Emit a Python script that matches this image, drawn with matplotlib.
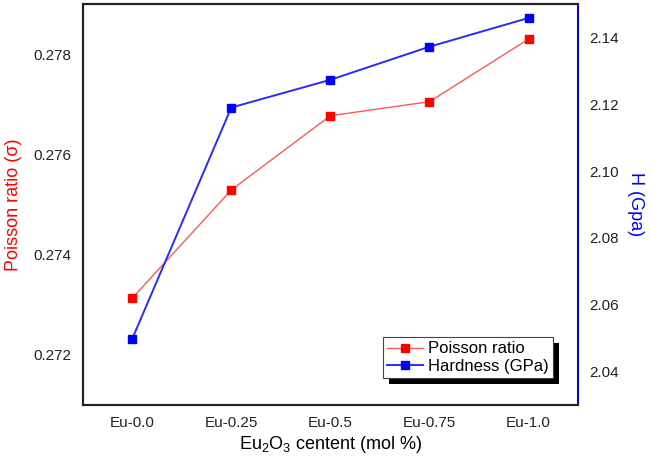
import matplotlib
matplotlib.use('Agg')
import matplotlib.pyplot as plt
from matplotlib.patches import Rectangle

plt.rcParams['font.family'] = ['Liberation Sans', 'DejaVu Sans']
plt.rcParams['mathtext.fontset'] = 'custom'
plt.rcParams['mathtext.rm'] = 'Liberation Sans'

# data
samples = ['Eu-0.0', 'Eu-0.25', 'Eu-0.5', 'Eu-0.75', 'Eu-1.0']
poisson = [0.27313, 0.27529, 0.27677, 0.27705, 0.27830]
hardness = [2.0498, 2.1190, 2.1273, 2.1372, 2.1458]
poisson_ticks = [0.272, 0.274, 0.276, 0.278]
hardness_ticks = [2.04, 2.06, 2.08, 2.10, 2.12, 2.14]

fig = plt.figure(figsize=(6.51, 4.68), dpi=100)
ax = fig.add_axes([0.127, 0.1346, 0.761, 0.857])
ax2 = ax.twinx()

x = list(range(len(samples)))

# Poisson ratio (left axis)
l1, = ax.plot(x, poisson, color='#ff5a5a', lw=1.0, marker='s', ms=5.5,
              mfc='red', mec='red', label='Poisson ratio')
ax.set_ylim(0.271, 0.279)
ax.set_yticks(poisson_ticks)
ax.set_yticklabels([f'{v:.3f}' for v in poisson_ticks])
ax.set_ylabel('Poisson ratio (σ)', color='red', fontsize=13, labelpad=8)

# Hardness (right axis)
l2, = ax2.plot(x, hardness, color='#2a2aff', lw=1.4, marker='s', ms=5.5,
               mfc='blue', mec='blue', label='Hardness (GPa)')
ax2.set_ylim(2.03, 2.15)
ax2.set_yticks(hardness_ticks)
ax2.set_yticklabels([f'{v:.2f}' for v in hardness_ticks])
ax2.set_ylabel('H (Gpa)', color='blue', fontsize=13, rotation=270, labelpad=18)

ax.set_xlim(-0.5, 4.5)
ax.set_xticks(x)
ax.set_xticklabels(samples)
ax.set_xlabel('Eu$_2$O$_3$ centent (mol %)', fontsize=13, labelpad=3)

for a in (ax, ax2):
    a.tick_params(length=0, labelsize=11, colors='#222222', pad=8)
    for s in a.spines.values():
        s.set_linewidth(1.5)
        s.set_color('#222222')
ax2.spines['right'].set_color('blue')
ax2.spines['right'].set_linewidth(1.2)

leg = ax2.legend([l1, l2], ['Poisson ratio', 'Hardness (GPa)'], loc='lower right',
                 bbox_to_anchor=(0.95, 0.067), fontsize=12, fancybox=False,
                 framealpha=1, edgecolor='#444444', borderpad=0.25,
                 handlelength=2.2, handletextpad=0.3, labelspacing=0.15,
                 borderaxespad=0)
leg.get_frame().set_linewidth(0.8)

# solid black drop shadow behind the legend box
fig.canvas.draw()
bb = leg.get_window_extent().transformed(fig.transFigure.inverted())
dx, dy = 6 / 651, -6 / 468
shadow = Rectangle((bb.x0 + dx, bb.y0 + dy), bb.width, bb.height,
                   transform=fig.transFigure, facecolor='black',
                   edgecolor='none', zorder=4)
ax2.add_artist(shadow)
shadow.set_clip_on(False)

fig.savefig('out.png', dpi=100)
